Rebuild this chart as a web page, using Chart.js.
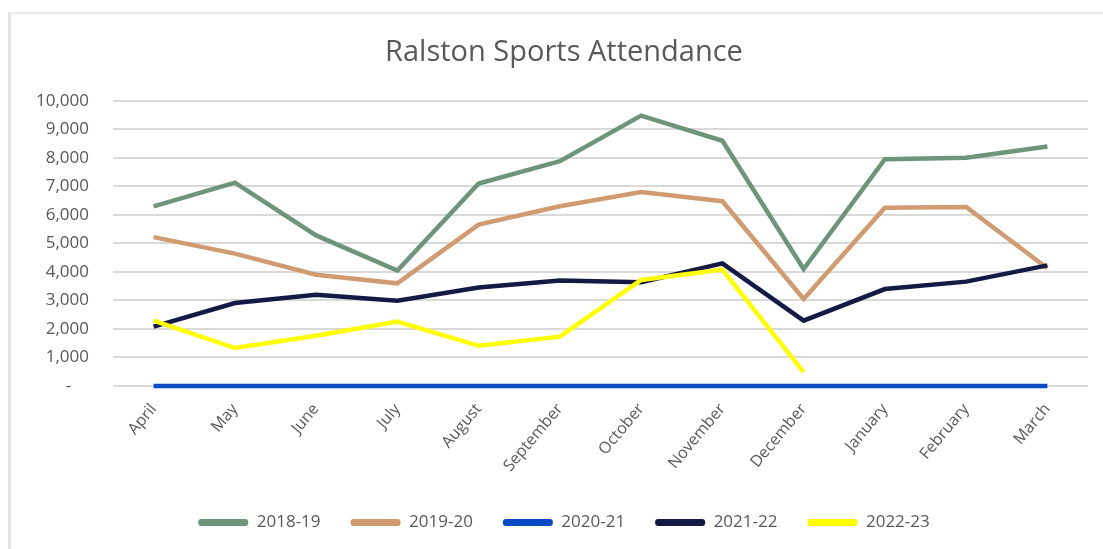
<!DOCTYPE html>
<html>
<head>
<meta charset="utf-8">
<script src="https://cdn.jsdelivr.net/npm/chart.js@4.4.0/dist/chart.umd.min.js"></script>
<style>
    html, body { margin: 0; padding: 0; background: #fff; }
    #frame { position: absolute; left: 8px; top: 12px; width: 1100px; height: 540px;
             border-left: 3px solid #e4e4e4; border-top: 2px solid #e8e8e8; }
    #wrap { position: absolute; left: 0; top: 0; width: 1103px; height: 549px; }
</style>
</head>
<body>
<div id="frame"></div>
<div id="wrap"><canvas id="attendance-chart"></canvas></div>

<script type="text/javascript">

    const months = ['April', 'May', 'June', 'July', 'August', 'September', 'October',
                    'November', 'December', 'January', 'February', 'March'];

    const season1819 = [6300, 7130, 5280, 4050, 7100, 7880, 9480, 8600, 4100, 7950, 8000, 8400];
    const season1920 = [5220, 4640, 3900, 3600, 5660, 6300, 6800, 6480, 3050, 6250, 6280, 4130];
    const season2021 = [0, 0, 0, 0, 0, 0, 0, 0, 0, 0, 0, 0];
    const season2122 = [2080, 2910, 3200, 2990, 3450, 3700, 3640, 4300, 2290, 3400, 3660, 4230];
    const season2223 = [2290, 1330, 1760, 2260, 1410, 1730, 3720, 4080, 490, null, null, null];

    const yTicks = [0, 1000, 2000, 3000, 4000, 5000, 6000, 7000, 8000, 9000, 10000];

    const textColor = '#595959';
    const font = 'Open Sans';

    function yLabel(v) {
        return v === 0 ? '-    ' : v.toLocaleString('en-US');
    }

    // the y labels are drawn "mirrored" so they are not clipped by the left padding,
    // then pushed back left of the plot by their widest width
    const measure = document.createElement('canvas').getContext('2d');
    measure.font = '17px "Open Sans"';
    const widestY = Math.max(...yTicks.map(v => measure.measureText(yLabel(v)).width));

    function series(label, data, color, order) {
        return {
            label: label,
            data: data,
            borderColor: color,
            backgroundColor: color,
            borderWidth: 4.5,
            pointRadius: 0,
            tension: 0,
            clip: 8,
            order: order
        };
    }

    let ctx = document.getElementById('attendance-chart');

    let mainChart = new Chart(ctx, {
        type: 'line',
        data: {
            labels: months,
            datasets: [
                series('2018-19', season1819, '#6e957b', 5),
                series('2019-20', season1920, '#d19b71', 4),
                series('2020-21', season2021, '#0a4bc4', 3),
                series('2021-22', season2122, '#141a44', 2),
                series('2022-23', season2223, '#ffff00', 1)
            ]
        },
        options: {
            responsive: true,
            maintainAspectRatio: false,
            animation: false,
            layout: {
                padding: { left: 40, right: 15, top: 0, bottom: 8 }
            },
            plugins: {
                title: {
                    display: true,
                    text: 'Ralston Sports Attendance',
                    color: textColor,
                    font: { family: font, size: 29, weight: 'normal' },
                    padding: { top: 35, bottom: 31 }
                },
                legend: {
                    position: 'bottom',
                    labels: {
                        color: textColor,
                        font: { family: font, size: 17 },
                        boxWidth: 50,
                        boxHeight: 7,
                        padding: 30,
                        sort: (a, b) => a.datasetIndex - b.datasetIndex,
                        generateLabels: (chart) => Chart.defaults.plugins.legend.labels
                            .generateLabels(chart)
                            .map(item => ({ ...item, lineWidth: 0, borderRadius: 3 }))
                    }
                },
                tooltip: { enabled: false }
            },
            scales: {
                x: {
                    offset: true,
                    grid: { display: false },
                    border: { display: false },
                    ticks: {
                        color: textColor,
                        font: { family: font, size: 16 },
                        maxRotation: 50,
                        minRotation: 50,
                        autoSkip: false,
                        padding: 6
                    },
                    afterFit: (scale) => { scale.height = 98; }
                },
                y: {
                    min: 0,
                    max: 10000,
                    grid: { color: '#d9d9d9', lineWidth: 2, drawTicks: false },
                    border: { display: false },
                    afterBuildTicks: (scale) => { scale.ticks = yTicks.map(v => ({ value: v })); },
                    ticks: {
                        color: textColor,
                        font: { family: font, size: 17 },
                        mirror: true,
                        crossAlign: 'far',
                        padding: -(24 + widestY),
                        callback: yLabel
                    },
                    afterFit: (scale) => { scale.width = 73; }
                }
            }
        }
    });

</script>
</body>
</html>
